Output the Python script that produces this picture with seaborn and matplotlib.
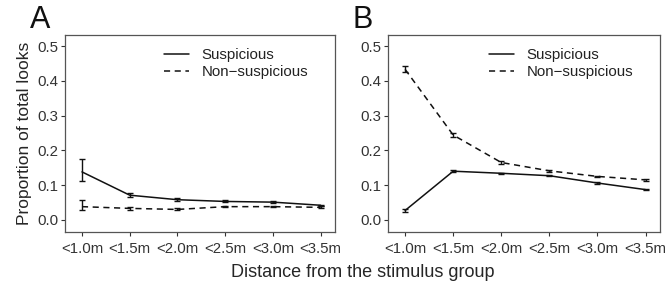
import numpy as np
import pandas as pd
import matplotlib
matplotlib.use("Agg")
import matplotlib.pyplot as plt
import seaborn as sns

categories = ["<1.0m", "<1.5m", "<2.0m", "<2.5m", "<3.0m", "<3.5m"]

# Panel A
a_susp = [0.138, 0.071, 0.058, 0.053, 0.051, 0.042]
a_susp_lo = [0.112, 0.065, 0.054, 0.050, 0.048, 0.039]
a_susp_hi = [0.175, 0.078, 0.062, 0.057, 0.054, 0.044]
a_non = [0.038, 0.033, 0.030, 0.038, 0.038, 0.036]
a_non_lo = [0.027, 0.029, 0.028, 0.036, 0.036, 0.033]
a_non_hi = [0.056, 0.037, 0.033, 0.040, 0.040, 0.040]

# Panel B
b_susp = [0.027, 0.140, 0.134, 0.127, 0.106, 0.087]
b_susp_lo = [0.022, 0.137, 0.132, 0.125, 0.104, 0.085]
b_susp_hi = [0.031, 0.143, 0.136, 0.129, 0.108, 0.089]
b_non = [0.433, 0.244, 0.165, 0.141, 0.125, 0.115]
b_non_lo = [0.426, 0.238, 0.162, 0.138, 0.123, 0.113]
b_non_hi = [0.442, 0.250, 0.168, 0.144, 0.127, 0.117]

sns.set_theme(style="white")
plt.rcParams['font.family'] = ['Liberation Sans', 'DejaVu Sans']

fig = plt.figure(figsize=(6.66, 2.84), dpi=100)
axA = fig.add_axes([0.098, 0.183, 0.405, 0.694])
axB = fig.add_axes([0.583, 0.183, 0.408, 0.694])

panels = [
    (axA, "A", a_susp, a_susp_lo, a_susp_hi, a_non, a_non_lo, a_non_hi),
    (axB, "B", b_susp, b_susp_lo, b_susp_hi, b_non, b_non_lo, b_non_hi),
]

for ax, letter, s, slo, shi, n, nlo, nhi in panels:
    df = pd.DataFrame({
        "x": list(range(len(categories))) * 2,
        "y": s + n,
        "group": ["Suspicious"] * len(s) + ["Non\u2212suspicious"] * len(n),
    })
    sns.lineplot(data=df, x="x", y="y", style="group", color="#111111",
                 dashes={"Suspicious": "", "Non\u2212suspicious": (4, 3)},
                 lw=1.1, ax=ax)
    for vals, lo, hi in [(s, slo, shi), (n, nlo, nhi)]:
        vals = np.array(vals)
        err = [vals - np.array(lo), np.array(hi) - vals]
        ax.errorbar(range(len(categories)), vals, yerr=err, fmt="none",
                    ecolor="#111111", elinewidth=1.0, capsize=2.5, capthick=1.0)
    ax.set_xlim(-0.35, 5.3)
    ax.set_ylim(-0.035, 0.532)
    ax.set_xticks(range(len(categories)))
    ax.set_xticklabels(categories)
    ax.set_yticks([0.0, 0.1, 0.2, 0.3, 0.4, 0.5])
    ax.set_yticklabels(["0.0", "0.1", "0.2", "0.3", "0.4", "0.5"])
    ax.tick_params(axis="both", length=3, width=0.8, color="#333333",
                   labelsize=10.8, labelcolor="#333333", bottom=True, left=True)
    ax.tick_params(axis="x", pad=4)
    ax.tick_params(axis="y", pad=2)
    for sp in ax.spines.values():
        sp.set_color("#555555")
        sp.set_linewidth(0.9)
    ax.set_xlabel("")
    ax.set_ylabel("")
    leg = ax.legend(loc="upper right", bbox_to_anchor=(0.95, 1.0), frameon=False,
                    fontsize=10.8, handlelength=1.7, handletextpad=0.8,
                    labelspacing=0.2, title=None)
    for t in leg.get_texts():
        t.set_color("#222222")
    ax.text(-0.13, 1.0, letter, transform=ax.transAxes, fontsize=22,
            ha="left", va="bottom", color="#111111")

axA.set_ylabel("Proportion of total looks", fontsize=12.5, labelpad=4)
fig.text(0.545, 0.01, "Distance from the stimulus group", ha="center",
         va="bottom", fontsize=13)

fig.savefig("out.png", dpi=100)
